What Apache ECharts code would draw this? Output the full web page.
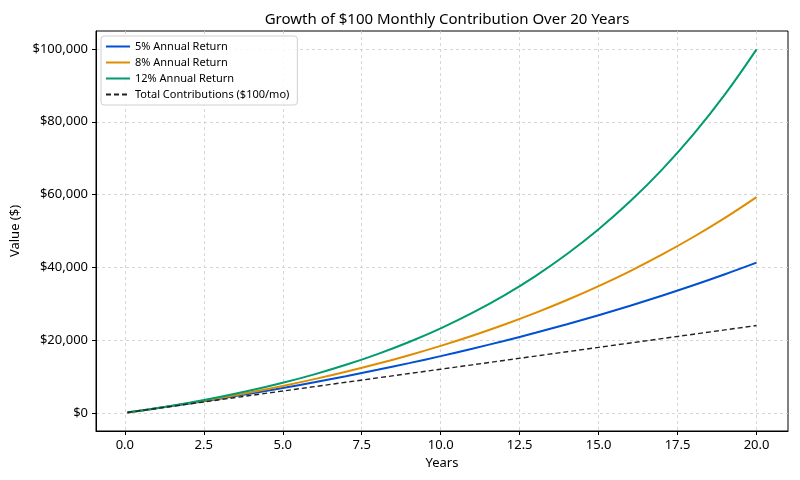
<!DOCTYPE html>
<html>
<head>
<meta charset="utf-8">
<script src="https://cdn.jsdelivr.net/npm/echarts@6/dist/echarts.min.js"></script>
<style>
  html, body { margin: 0; padding: 0; background: #fff; }
  #main { width: 800px; height: 480px; }
</style>
</head>
<body>
<div id="main"></div>
<script>
// years (first point = month 1)
var years = [0.083, 1, 2, 3, 4, 5, 6, 7, 8, 9, 10, 11, 12, 13, 14, 15, 16, 17, 18, 19, 20];
// balances
var ret5 = [100, 1233, 2529, 3891, 5323, 6829, 8411, 10075, 11823, 13661, 15593, 17624, 19758, 22002, 24361, 26840, 29446, 32186, 35066, 38093, 41275];
var ret8 = [101, 1253, 2611, 4081, 5673, 7397, 9264, 11286, 13476, 15848, 18417, 21198, 24211, 27474, 31008, 34834, 38979, 43468, 48329, 53593, 59295];
var ret12 = [101, 1281, 2724, 4351, 6183, 8249, 10576, 13198, 16153, 19482, 23234, 27461, 32225, 37593, 43642, 50458, 58138, 66792, 76544, 87532, 99915];
var contrib = [100, 1200, 2400, 3600, 4800, 6000, 7200, 8400, 9600, 10800, 12000, 13200, 14400, 15600, 16800, 18000, 19200, 20400, 21600, 22800, 24000];
var xTicks = [0, 2.5, 5, 7.5, 10, 12.5, 15, 17.5, 20];
var yTicks = [0, 20000, 40000, 60000, 80000, 100000];

var seriesNames = ['5% Annual Return', '8% Annual Return', '12% Annual Return', 'Total Contributions ($100/mo)'];
var seriesData = [ret5, ret8, ret12, contrib];
var colors = ['#0050d2', '#e08c00', '#009b6e', '#222222'];

var font = 'Noto Sans';

function pairs(ys) {
  return years.map(function (x, i) { return [x, ys[i]]; });
}

var myChart = echarts.init(document.getElementById('main'));

var series = seriesNames.map(function (name, i) {
  var dashed = i === 3;
  return {
    name: name,
    type: 'line',
    data: pairs(seriesData[i]),
    smooth: dashed ? false : 0.4,
    symbol: 'none',
    lineStyle: { color: colors[i], width: dashed ? 1.4 : 2, type: dashed ? [5, 3] : 'solid' },
    itemStyle: { color: colors[i] },
    z: 3 + i
  };
});

myChart.setOption({
  animation: false,
  backgroundColor: '#fff',
  textStyle: { fontFamily: font },
  title: {
    text: 'Growth of $100 Monthly Contribution Over 20 Years',
    left: 442,
    top: 7,
    textAlign: 'center',
    textStyle: { fontFamily: font, fontSize: 15, fontWeight: 'normal', color: '#000' }
  },
  legend: {
    orient: 'vertical',
    left: 101,
    top: 36,
    itemWidth: 24,
    itemHeight: 10,
    itemGap: 5,
    padding: [5, 8, 5, 4],
    borderColor: '#d0d0d0',
    borderWidth: 1,
    borderRadius: 3,
    backgroundColor: 'rgba(255,255,255,0.85)',
    itemStyle: { opacity: 0 },
    textStyle: { fontFamily: font, fontSize: 11, color: '#000' },
    data: seriesNames
  },
  grid: { left: 96, right: 12, top: 31, bottom: 49, show: true, borderColor: '#000', borderWidth: 1 },
  xAxis: {
    type: 'value',
    min: -0.913,
    max: 20.996,
    name: 'Years',
    nameLocation: 'middle',
    nameGap: 26,
    nameTextStyle: { fontFamily: font, fontSize: 13, color: '#000' },
    axisLine: { show: true, onZero: false, lineStyle: { color: '#000', width: 1 } },
    axisTick: { show: true, length: 4, lineStyle: { color: '#000' }, customValues: xTicks },
    axisLabel: {
      color: '#000', fontSize: 13, fontFamily: font, margin: 8, customValues: xTicks,
      formatter: function (v) { return v.toFixed(1); }
    },
    splitLine: { show: true, lineStyle: { color: '#cccccc', type: [3, 3], width: 0.8 } }
  },
  yAxis: {
    type: 'value',
    min: -4990,
    max: 104950,
    name: 'Value ($)',
    nameLocation: 'middle',
    nameGap: 74,
    nameTextStyle: { fontFamily: font, fontSize: 13, color: '#000' },
    axisLine: { show: true, onZero: false, lineStyle: { color: '#000', width: 1 } },
    axisTick: { show: true, length: 4, lineStyle: { color: '#000' }, customValues: yTicks },
    axisLabel: {
      color: '#000', fontSize: 13, fontFamily: font, margin: 8, customValues: yTicks,
      formatter: function (v) { return '$' + Math.round(v).toLocaleString('en-US'); }
    },
    splitLine: { show: true, lineStyle: { color: '#cccccc', type: [3, 3], width: 0.8 } }
  },
  series: series
});
</script>
</body>
</html>
